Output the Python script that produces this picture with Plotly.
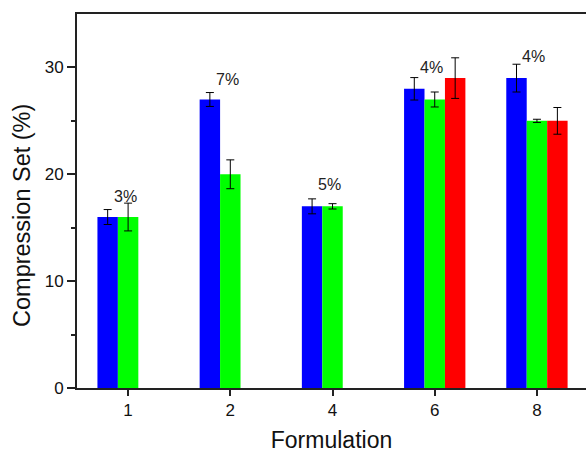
import plotly.graph_objects as go

categories = ["1", "2", "4", "6", "8"]
blue_vals = [16, 27, 17, 28, 29]
blue_err = [0.7, 0.65, 0.7, 1.05, 1.3]
green_vals = [16, 20, 17, 27, 25]
green_err = [1.3, 1.35, 0.25, 0.7, 0.15]
red_vals = [None, None, None, 29, 25]
red_err = [0, 0, 0, 1.9, 1.25]
labels = ["3%", "7%", "5%", "4%", "4%"]
label_y = [17.9, 28.9, 19.0, 30.0, 31.0]

bar_w = 0.2
err_style = dict(type="data", color="black", thickness=1, width=4)

fig = go.Figure()
fig.add_trace(go.Bar(x=categories, y=blue_vals, width=bar_w, offset=-1.5 * bar_w,
                     marker=dict(color="#0000ff", line=dict(width=0)),
                     error_y=dict(array=blue_err, **err_style)))
fig.add_trace(go.Bar(x=categories, y=green_vals, width=bar_w, offset=-0.5 * bar_w,
                     marker=dict(color="#00ff00", line=dict(width=0)),
                     error_y=dict(array=green_err, **err_style)))
fig.add_trace(go.Bar(x=categories, y=red_vals, width=bar_w, offset=0.5 * bar_w,
                     marker=dict(color="#ff0000", line=dict(width=0)),
                     error_y=dict(array=red_err, **err_style)))

for i, (t, yv) in enumerate(zip(labels, label_y)):
    fig.add_annotation(x=i, y=yv, text=t, showarrow=False, xshift=-3,
                       font=dict(size=16, color="#222"))

# y-axis title (placed as annotation to match the reference's vertical position)
fig.add_annotation(text="Compression Set (%)", xref="paper", yref="paper",
                   x=-0.108, y=0.46, xanchor="center", yanchor="middle",
                   textangle=-90, showarrow=False,
                   font=dict(size=23.5, color="#111"))

font_family = "Liberation Sans, Arial, sans-serif"
fig.update_layout(
    width=586, height=453,
    margin=dict(l=77, r=0, t=14, b=65),
    plot_bgcolor="white", paper_bgcolor="white",
    barmode="overlay", showlegend=False,
    font=dict(family=font_family, size=17, color="#111"),
    xaxis=dict(type="category", range=[-0.5, 4.48], showline=True, linecolor="#222",
               linewidth=2, mirror=True, ticks="outside", ticklen=6, tickwidth=1.5,
               tickcolor="#222", showgrid=False, tickfont=dict(size=17),
               title=dict(text="Formulation", font=dict(size=23), standoff=12)),
    yaxis=dict(range=[0, 35], showline=True, linecolor="#222", linewidth=2,
               ticks="outside", ticklen=8, tickwidth=1.5, tickcolor="#222",
               tickvals=[0, 10, 20, 30], showgrid=False, zeroline=False,
               tickfont=dict(size=17),
               minor=dict(tickvals=[5, 15, 25], ticks="outside", ticklen=4,
                          tickcolor="#222", tickwidth=1.5, showgrid=False)),
)

fig.write_html("out.html")
